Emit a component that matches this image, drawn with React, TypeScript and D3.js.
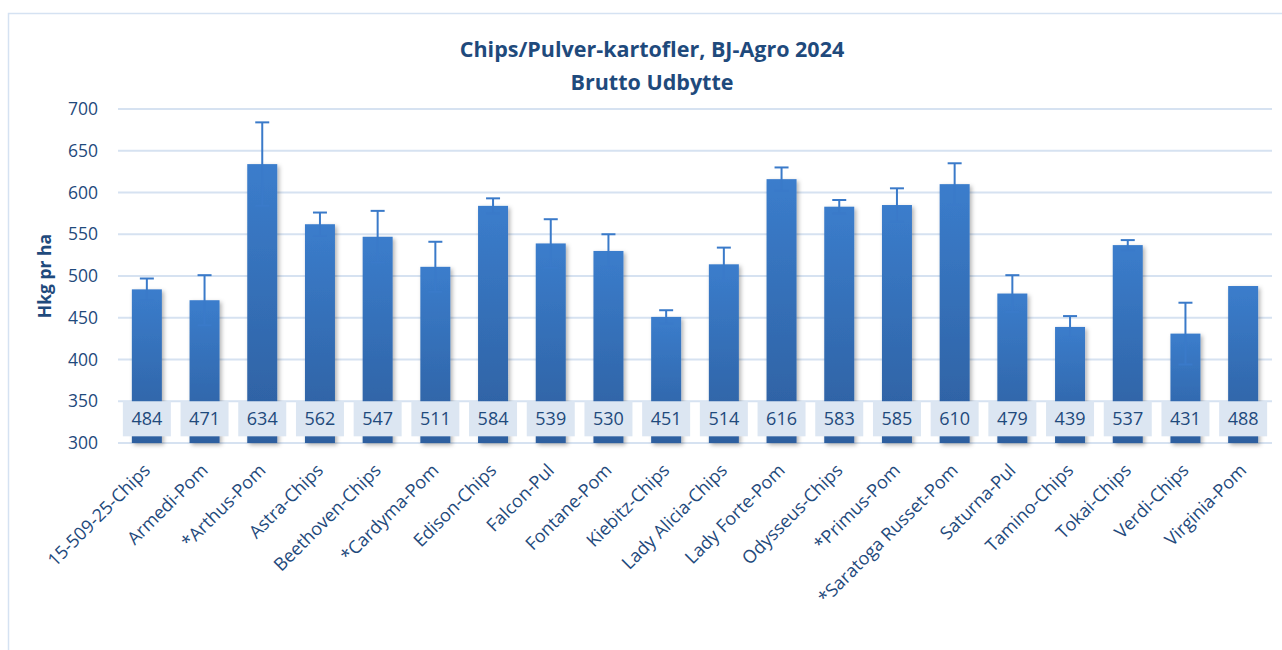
import { useEffect, useRef } from "react";
import * as d3 from "d3";

const varieties = [
  "15-509-25-Chips", "Armedi-Pom", "*Arthus-Pom", "Astra-Chips", "Beethoven-Chips",
  "*Cardyma-Pom", "Edison-Chips", "Falcon-Pul", "Fontane-Pom", "Kiebitz-Chips",
  "Lady Alicia-Chips", "Lady Forte-Pom", "Odysseus-Chips", "*Primus-Pom",
  "*Saratoga Russet-Pom", "Saturna-Pul", "Tamino-Chips", "Tokai-Chips", "Verdi-Chips",
  "Virginia-Pom",
];
const yieldValues = [484, 471, 634, 562, 547, 511, 584, 539, 530, 451, 514, 616, 583, 585, 610, 479, 439, 537, 431, 488];
// error bar half-widths (Virginia has none)
const errorValues = [13, 30, 50, 14, 31, 30, 9, 29, 20, 8, 20, 14, 8, 20, 25, 22, 13, 6, 37, 0];
const yTicks = [300, 350, 400, 450, 500, 550, 600, 650, 700];

const FONT = "Open Sans, sans-serif";
const TEXT = "#1f4a7c";

export default function App() {
  const ref = useRef<SVGSVGElement>(null);

  useEffect(() => {
    const width = 1282;
    const height = 650;
    const margin = { top: 109, right: 10, bottom: 207, left: 118 };

    const svg = d3.select(ref.current);
    svg.selectAll("*").remove();

    const defs = svg.append("defs");
    const grad = defs
      .append("linearGradient")
      .attr("id", "barGrad")
      .attr("x1", 0).attr("y1", 0).attr("x2", 0).attr("y2", 1);
    grad.append("stop").attr("offset", "0%").attr("stop-color", "#3b7dcc");
    grad.append("stop").attr("offset", "100%").attr("stop-color", "#2d5f9f");
    const f = defs.append("filter").attr("id", "shadow").attr("x", "-20%").attr("y", "-5%").attr("width", "150%").attr("height", "115%");
    f.append("feDropShadow")
      .attr("dx", 2).attr("dy", 2).attr("stdDeviation", 2)
      .attr("flood-color", "#000").attr("flood-opacity", 0.3);

    // outer chart border
    svg.append("rect")
      .attr("x", 8.5).attr("y", 13.5)
      .attr("width", 1300).attr("height", 700)
      .attr("fill", "none").attr("stroke", "#d5e2f2").attr("stroke-width", 1.5);

    const x = d3
      .scaleBand()
      .domain(varieties)
      .range([margin.left, width - margin.right])
      .paddingInner(0.48)
      .paddingOuter(0.24);

    const y = d3
      .scaleLinear()
      .domain([300, 700])
      .range([height - margin.bottom, margin.top]);

    // gridlines
    svg.append("g")
      .selectAll("line")
      .data(yTicks)
      .enter()
      .append("line")
      .attr("x1", margin.left)
      .attr("x2", width - margin.right)
      .attr("y1", (d) => y(d))
      .attr("y2", (d) => y(d))
      .attr("stroke", "#d6e2f1")
      .attr("stroke-width", 2);

    // y tick labels
    svg.append("g")
      .selectAll("text")
      .data(yTicks)
      .enter()
      .append("text")
      .attr("x", 98)
      .attr("y", (d) => y(d))
      .attr("dy", "0.35em")
      .attr("text-anchor", "end")
      .attr("font-family", FONT)
      .attr("font-size", 17.5)
      .attr("fill", TEXT)
      .text((d) => d);

    const data = varieties.map((name, i) => ({ name, value: yieldValues[i], err: errorValues[i] }));

    // bars
    svg.append("g")
      .selectAll("rect")
      .data(data)
      .enter()
      .append("rect")
      .attr("x", (d) => x(d.name)!)
      .attr("y", (d) => y(d.value))
      .attr("width", x.bandwidth())
      .attr("height", (d) => y(300) - y(d.value))
      .attr("fill", "url(#barGrad)")
      .attr("filter", "url(#shadow)");

    // error bars
    const eg = svg.append("g")
      .attr("stroke", "#3a7ac9")
      .attr("stroke-width", 2);
    const withErr = data.filter((d) => d.err > 0);
    const cx = (d: { name: string }) => x(d.name)! + x.bandwidth() / 2;
    eg.selectAll("line.v")
      .data(withErr)
      .enter()
      .append("line")
      .attr("x1", cx).attr("x2", cx)
      .attr("y1", (d) => y(d.value - d.err))
      .attr("y2", (d) => y(d.value + d.err));
    [1, -1].forEach((s) => {
      eg.append("g")
        .selectAll("line")
        .data(withErr)
        .enter()
        .append("line")
        .attr("x1", (d) => cx(d) - 7)
        .attr("x2", (d) => cx(d) + 7)
        .attr("y1", (d) => y(d.value + s * d.err))
        .attr("y2", (d) => y(d.value + s * d.err));
    });

    // value labels
    const lg = svg.append("g");
    const boxW = 48;
    lg.selectAll("rect")
      .data(data)
      .enter()
      .append("rect")
      .attr("x", (d) => cx(d) - boxW / 2)
      .attr("y", y(350))
      .attr("width", boxW)
      .attr("height", y(308) - y(350))
      .attr("fill", "#dce6f2");
    lg.selectAll("text")
      .data(data)
      .enter()
      .append("text")
      .attr("x", cx)
      .attr("y", (y(350) + y(308)) / 2)
      .attr("dy", "0.36em")
      .attr("text-anchor", "middle")
      .attr("font-family", FONT)
      .attr("font-size", 18)
      .attr("fill", TEXT)
      .text((d) => d.value);

    // x labels
    svg.append("g")
      .selectAll("text")
      .data(varieties)
      .enter()
      .append("text")
      .attr("transform", (d) => `translate(${x(d)! + x.bandwidth() / 2},${height - margin.bottom + 24}) rotate(-45)`)
      .attr("text-anchor", "end")
      .attr("dy", "0.35em")
      .attr("font-family", FONT)
      .attr("font-size", 18)
      .attr("fill", TEXT)
      .text((d) => d);

    // y axis title
    svg.append("text")
      .attr("transform", `translate(51,${(y(300) + y(700)) / 2}) rotate(-90)`)
      .attr("text-anchor", "middle")
      .attr("font-family", FONT)
      .attr("font-weight", "bold")
      .attr("font-size", 17.5)
      .attr("fill", TEXT)
      .text("Hkg pr ha");

    // title
    const title = svg.append("text")
      .attr("text-anchor", "middle")
      .attr("font-family", FONT)
      .attr("font-weight", "bold")
      .attr("font-size", 21.5)
      .attr("fill", TEXT);
    title.append("tspan").attr("x", 652).attr("y", 57).text("Chips/Pulver-kartofler, BJ-Agro 2024");
    title.append("tspan").attr("x", 652).attr("y", 90).text("Brutto Udbytte");
  }, []);

  return (
    <svg
      ref={ref}
      width={1282}
      height={650}
      style={{ position: "absolute", left: 0, top: 0, background: "#fff" }}
    />
  );
}
